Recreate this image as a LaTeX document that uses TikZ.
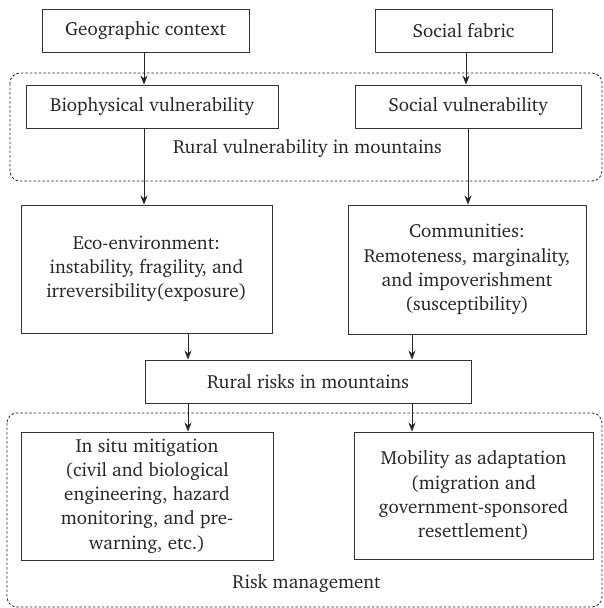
\documentclass[tikz,border=0pt]{standalone}
\usepackage[T1]{fontenc}
\usepackage{charter}
\usetikzlibrary{arrows.meta,calc}
\begin{document}
\begin{tikzpicture}[x=1pt,y=-1pt,
  box/.style={draw=black!80,line width=0.9pt,align=center,inner sep=0pt,
    font=\fontsize{19}{24.2}\selectfont,text=black!85},
  lbl/.style={align=center,inner sep=0pt,font=\fontsize{19}{24.2}\selectfont,text=black!85},
  region/.style={draw=black!85,line width=0.8pt,dash pattern=on 2.5pt off 2pt,rounded corners=10pt},
  arr/.style={draw=black!85,line width=0.8pt,-{Stealth[length=9pt,width=7pt]}}]
\useasboundingbox (0,0) rectangle (604,608);
% regions
\draw[region] (10,73) rectangle (602,181);
\draw[region] (7,413) rectangle (602,607);
% nodes
\node[box,minimum width=207pt,minimum height=43pt] (geo) at (145.5,30.5) {Geographic context};
\node[box,minimum width=177pt,minimum height=43pt] (fab) at (463.5,30.5) {Social fabric};
\node[box,minimum width=252pt,minimum height=43pt] (bio) at (152,106.5) {Biophysical vulnerability};
\node[box,minimum width=226pt,minimum height=43pt] (svu) at (468,106.5) {Social vulnerability};
\node[lbl] (rvm) at (307.5,148) {Rural vulnerability in mountains};
\node[box,minimum width=251pt,minimum height=128pt] (eco) at (146.5,269) {Eco-environment:\\instability, fragility, and\\irreversibility(exposure)};
\node[box,minimum width=238pt,minimum height=129pt] (com) at (467,269.5) {Communities:\\Remoteness, marginality,\\and impoverishment\\(susceptibility)};
\node[box,minimum width=326pt,minimum height=43pt] (rr) at (308,381.5) {Rural risks in mountains};
\node[box,minimum width=252pt,minimum height=128pt] (ins) at (147,496) {In situ mitigation\\(civil and biological\\engineering, hazard\\monitoring, and pre-\\warning, etc.)};
\node[box,minimum width=239pt,minimum height=127pt] (mob) at (473.5,495.5) {Mobility as adaptation\\(migration and\\government-sponsored\\resettlement)};
\node[lbl] (rm) at (306.5,583) {Risk management};
% connectors
\draw[arr] (geo.south -| 144,0) -- (bio.north -| 144,0);
\draw[arr] (fab.south -| 466,0) -- (svu.north -| 466,0);
\draw[arr] (bio.south -| 144,0) -- (eco.north -| 144,0);
\draw[arr] (svu.south -| 468,0) -- (com.north -| 468,0);
\draw[arr] (eco.south -| 188,0) -- (rr.north -| 188,0);
\draw[arr] (com.south -| 412,0) -- (rr.north -| 412,0);
\draw[arr] (rr.south -| 188,0) -- (ins.north -| 188,0);
\draw[arr] (rr.south -| 412,0) -- (mob.north -| 412,0);
\end{tikzpicture}
\end{document}
